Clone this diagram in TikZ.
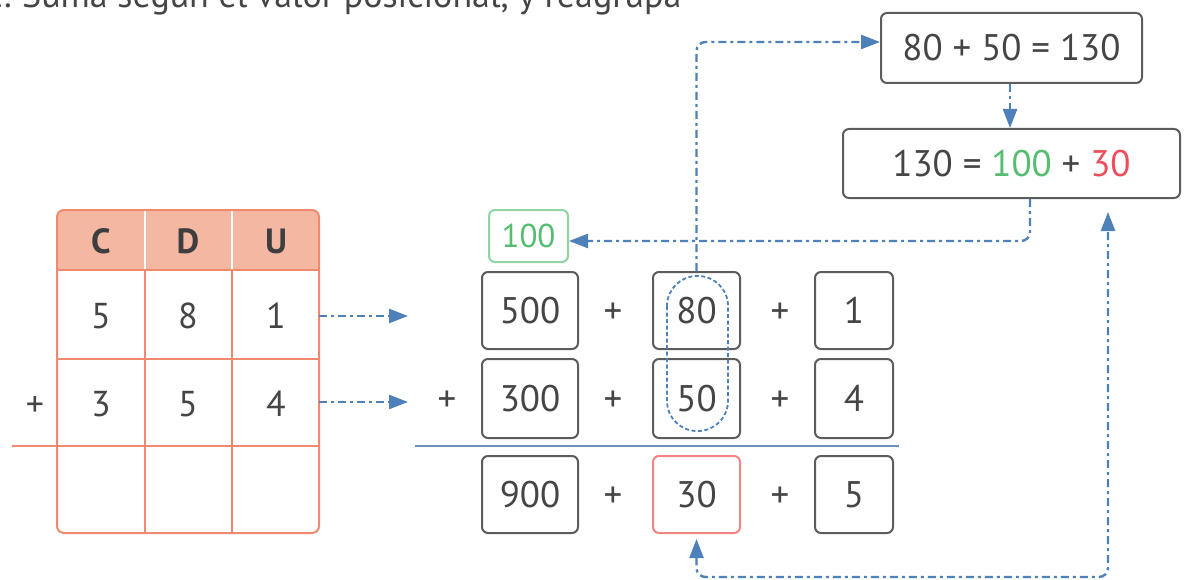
\documentclass[tikz,border=0pt]{standalone}
\usepackage{fontspec}
\setmainfont{PT Sans}
\usetikzlibrary{arrows.meta}
\definecolor{txt}{HTML}{454545}
\definecolor{boxc}{HTML}{5C5C5C}
\definecolor{arrc}{HTML}{4E80B9}
\definecolor{grn}{HTML}{55BD70}
\definecolor{grnb}{HTML}{8FD4A3}
\definecolor{redt}{HTML}{EE4E5C}
\definecolor{redb}{HTML}{F28484}
\definecolor{tline}{HTML}{F0896E}
\definecolor{thdr}{HTML}{F4B8A2}
\definecolor{sepc}{HTML}{6F92BA}
\tikzset{
  num/.style={font=\fontsize{37}{40}\selectfont, text=txt},
  numbox/.style={num, draw=boxc, line width=2pt, rounded corners=6pt, minimum width=#1, minimum height=77pt, inner sep=0pt},
  plus/.style={num, inner sep=0pt},
  arr/.style={draw=arrc, line width=2.4pt, dash pattern=on 8pt off 4pt on 3pt off 4pt, rounded corners=9pt, -{Triangle[length=19pt,width=14pt]}},
  tcell/.style={font=\fontsize{36}{40}\selectfont, text=txt, inner sep=0pt},
  thead/.style={font=\fontsize{35}{40}\selectfont\bfseries, text=txt!90!black, inner sep=0pt}
}
\begin{document}
\begin{tikzpicture}[x=1pt,y=-1pt]
\useasboundingbox (0,0) rectangle (1185,580);
% title (cropped at top, as in the reference)
\node[anchor=base west, inner sep=0pt, font=\fontsize{36}{40}\selectfont, text=txt] (title) at (22,8) {Suma según el valor posicional, y reagrupa};
\node[anchor=base east, inner sep=0pt, font=\fontsize{36}{40}\selectfont, text=txt] (num) at (12,8) {2.};
% table
\begin{scope}
  \clip[rounded corners=7pt] (57,210) rectangle (319,533);
  \fill[thdr] (57,210) rectangle (319,270);
\end{scope}
\draw[tline, line width=2pt] (145,270) -- (145,533) (232,270) -- (232,533);
\draw[white, line width=2pt] (145,211) -- (145,270) (232,211) -- (232,270);
\draw[tline, line width=2pt] (57,270) -- (319,270) (57,359) -- (319,359);
\draw[tline, line width=2pt] (12,446) -- (319,446);
\draw[tline, line width=2pt, rounded corners=7pt] (57,210) rectangle (319,533);
\node[thead] (hC) at (101,241) {C};
\node[thead] (hD) at (188,241) {D};
\node[thead] (hU) at (276,241) {U};
\node[tcell] (a1) at (101,316) {5};
\node[tcell] (a2) at (188,316) {8};
\node[tcell] (a3) at (276,316) {1};
\node[tcell] (b1) at (101,404) {3};
\node[tcell] (b2) at (188,404) {5};
\node[tcell] (b3) at (276,404) {4};
\node[tcell] (tp) at (35,407) {+};
\coordinate (r1s) at (319,316);
\coordinate (r1e) at (408,316);
\coordinate (r2s) at (319,402);
\coordinate (r2e) at (408,402);
\draw[arr] (r1s) -- (r1e);
\draw[arr] (r2s) -- (r2e);
% middle boxes
\node[numbox=79pt, minimum height=52pt, draw=grnb, text=grn, font=\fontsize{33}{36}\selectfont] (c100) at (528.5,236) {100};
\node[numbox=96pt] (m500) at (530,310.5) {500};
\node[numbox=87pt] (m80) at (696.5,310.5) {80};
\node[numbox=78pt] (m1) at (854,310.5) {1};
\node[plus] (p11) at (613,313) {+};
\node[plus] (p12) at (780,313) {+};
\node[numbox=96pt, minimum height=79pt] (m300) at (530,398.5) {300};
\node[numbox=87pt, minimum height=79pt] (m50) at (696.5,398.5) {50};
\node[numbox=78pt, minimum height=79pt] (m4) at (854,398.5) {4};
\node[plus] (p20) at (447,401) {+};
\node[plus] (p21) at (613,401) {+};
\node[plus] (p22) at (780,401) {+};
\draw[sepc, line width=1.5pt] (415,446) -- (899,446);
\node[numbox=96pt] (m900) at (530,494.5) {900};
\node[numbox=87pt, draw=redb] (m30) at (696.5,494.5) {30};
\node[numbox=78pt] (m5) at (854,494.5) {5};
\node[plus] (p31) at (613,497) {+};
\node[plus] (p32) at (780,497) {+};
% dashed grouping
\draw[arrc, line width=1.8pt, dash pattern=on 4pt off 2.5pt, rounded corners=30pt] (667,276) rectangle (728,431);
% right boxes
\node[numbox=261pt, minimum height=70pt] (top) at (1011.5,48) {80 + 50 = 130};
\node[numbox=337pt, minimum height=69pt] (mid) at (1011.5,163.5) {130 = {\color{grn}100} + {\color{redt}30}};
% connectors
\draw[arr] (m80.north) |- ([yshift=6pt]top.west);
\draw[arr] ([xshift=-1.5pt]top.south) -- ([xshift=-1.5pt]mid.north);
\draw[arr] ([xshift=18.5pt]mid.south) |- ([yshift=-5pt]c100.east);
\coordinate (bc) at (1108,577);
\draw[arr, {Triangle[length=19pt,width=14pt]}-{Triangle[length=19pt,width=14pt]}] ([yshift=-5pt]m30.south) |- (bc) -- ([xshift=96.5pt,yshift=-13pt]mid.south);
\end{tikzpicture}
\end{document}
